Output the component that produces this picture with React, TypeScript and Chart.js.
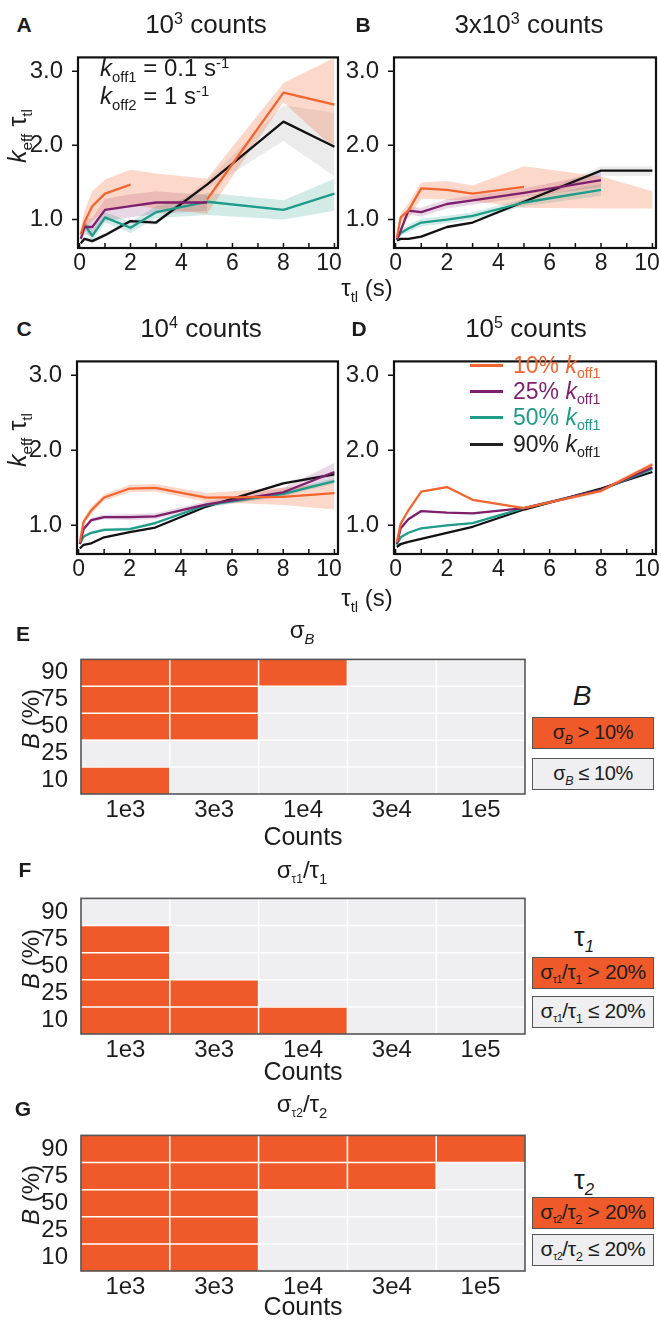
import React, { useEffect, useRef } from 'react';
import { Chart, registerables } from 'chart.js';

Chart.register(...registerables);

const FONT = '"Liberation Sans", Arial, Helvetica, sans-serif';
const INK = '#1c1c1c';

// ---------- shared axes ----------
const tauTL = [0.05, 0.2, 0.5, 1, 2, 3, 5, 8, 10];
const xTickValues = [0, 2, 4, 6, 8, 10];
const xTickMarks = [0, 1, 2, 3, 4, 5, 6, 7, 8, 9, 10];
const yTickValues = [1, 2, 3];

// ---------- colours ----------
const C_ORANGE = '#F2652F';
const C_PURPLE = '#7E1F6B';
const C_TEAL = '#1F9C89';
const C_BLACK = '#111111';
const B_ORANGE = 'rgba(242,101,47,0.25)';
const B_PURPLE = 'rgba(126,31,107,0.18)';
const B_TEAL = 'rgba(31,156,137,0.2)';
const B_BLACK = 'rgba(0,0,0,0.08)';
const HEAT_ON = '#F05A2A';
const HEAT_OFF = '#EFEFF1';

// ---------- Panel A : 10^3 counts ----------
const aOrange = [0.80, 0.97, 1.18, 1.35, 1.47, null, 1.27, 2.71, 2.55];
const aOrangeHi = [0.88, 1.12, 1.38, 1.54, 1.67, 1.62, 1.55, 2.84, 3.18];
const aOrangeLo = [0.72, 0.84, 0.98, 1.12, 1.20, 1.15, 1.08, 2.58, 1.95];
const aPurple = [0.74, 0.90, 0.90, 1.13, 1.18, 1.23, 1.23, null, null];
const aPurpleHi = [0.80, 1.00, 1.02, 1.28, 1.34, 1.38, 1.33, null, null];
const aPurpleLo = [0.68, 0.80, 0.78, 0.98, 1.03, 1.08, 1.12, null, null];
const aTeal = [0.80, 0.93, 0.78, 1.03, 0.89, 1.10, 1.24, 1.13, 1.35];
const aTealHi = [0.84, 0.99, 0.86, 1.10, 0.97, 1.18, 1.36, 1.26, 1.55];
const aTealLo = [0.76, 0.87, 0.70, 0.96, 0.82, 1.02, 1.06, 1.00, 1.12];
const aBlack = [0.68, 0.74, 0.71, 0.79, 0.98, 0.96, 1.47, 2.32, 1.98];
const aBlackHi = [0.70, 0.77, 0.74, 0.82, 1.01, 0.99, 1.53, 2.54, 2.44];
const aBlackLo = [0.66, 0.71, 0.68, 0.76, 0.95, 0.93, 1.41, 2.06, 1.58];

// ---------- Panel B : 3x10^3 counts ----------
const bOrange = [0.75, 1.03, 1.12, 1.42, 1.40, 1.35, 1.44, null, null];
const bOrangeHi = [0.80, 1.08, 1.22, 1.50, 1.52, 1.46, 1.72, 1.58, 1.38];
const bOrangeLo = [0.70, 0.97, 1.02, 1.28, 1.27, 1.25, 1.16, 1.15, 1.15];
const bPurple = [0.73, 0.85, 1.12, 1.10, 1.21, 1.26, 1.36, 1.53, null];
const bPurpleHi = [0.76, 0.90, 1.17, 1.16, 1.27, 1.32, 1.42, 1.63, null];
const bPurpleLo = [0.70, 0.80, 1.07, 1.04, 1.15, 1.20, 1.30, 1.44, null];
const bTeal = [0.73, 0.82, 0.88, 0.96, 1.00, 1.05, 1.23, 1.40, null];
const bTealHi = [0.76, 0.86, 0.93, 1.01, 1.05, 1.10, 1.28, 1.48, null];
const bTealLo = [0.70, 0.78, 0.83, 0.91, 0.95, 1.00, 1.18, 1.32, null];
const bBlack = [0.72, 0.74, 0.74, 0.77, 0.90, 0.96, 1.24, 1.66, 1.66];
const bBlackHi = [0.74, 0.76, 0.76, 0.79, 0.92, 0.98, 1.27, 1.72, 1.72];
const bBlackLo = [0.70, 0.72, 0.72, 0.75, 0.88, 0.94, 1.21, 1.59, 1.59];

// ---------- Panel C : 10^4 counts ----------
const cOrange = [0.77, 1.05, 1.20, 1.37, 1.49, 1.50, 1.37, 1.38, 1.43];
const cOrangeHi = [0.80, 1.09, 1.25, 1.41, 1.54, 1.55, 1.43, 1.50, 1.57];
const cOrangeLo = [0.74, 1.01, 1.15, 1.33, 1.44, 1.45, 1.31, 1.27, 1.21];
const cPurple = [0.75, 0.95, 1.07, 1.11, 1.11, 1.12, 1.28, 1.44, 1.71];
const cPurpleHi = [0.77, 0.98, 1.10, 1.14, 1.15, 1.16, 1.32, 1.50, 1.83];
const cPurpleLo = [0.73, 0.92, 1.04, 1.08, 1.07, 1.08, 1.24, 1.38, 1.61];
const cTeal = [0.75, 0.85, 0.90, 0.94, 0.95, 1.03, 1.27, 1.42, 1.59];
const cTealHi = [0.77, 0.87, 0.92, 0.96, 0.97, 1.05, 1.29, 1.45, 1.63];
const cTealLo = [0.73, 0.83, 0.88, 0.92, 0.93, 1.01, 1.25, 1.39, 1.55];
const cBlack = [0.69, 0.74, 0.76, 0.84, 0.91, 0.97, 1.25, 1.56, 1.68];
const cBlackHi = [0.70, 0.75, 0.77, 0.85, 0.92, 0.98, 1.26, 1.58, 1.71];
const cBlackLo = [0.68, 0.73, 0.75, 0.83, 0.90, 0.96, 1.24, 1.54, 1.65];

// ---------- Panel D : 10^5 counts ----------
const dOrange = [0.77, 1.02, 1.20, 1.45, 1.51, 1.34, 1.23, 1.46, 1.81];
const dOrangeHi = [0.78, 1.03, 1.21, 1.46, 1.52, 1.35, 1.24, 1.49, 1.84];
const dOrangeLo = [0.76, 1.01, 1.19, 1.44, 1.50, 1.33, 1.22, 1.43, 1.78];
const dPurple = [0.75, 0.96, 1.08, 1.19, 1.17, 1.16, 1.23, 1.47, 1.77];
const dPurpleHi = [0.76, 0.97, 1.09, 1.20, 1.18, 1.17, 1.24, 1.49, 1.80];
const dPurpleLo = [0.74, 0.95, 1.07, 1.18, 1.16, 1.15, 1.22, 1.45, 1.74];
const dTeal = [0.74, 0.84, 0.90, 0.96, 1.00, 1.03, 1.23, 1.47, 1.75];
const dTealHi = [0.75, 0.85, 0.91, 0.97, 1.01, 1.04, 1.24, 1.48, 1.77];
const dTealLo = [0.73, 0.83, 0.89, 0.95, 0.99, 1.02, 1.22, 1.46, 1.73];
const dBlack = [0.71, 0.75, 0.78, 0.82, 0.90, 0.98, 1.21, 1.49, 1.71];
const dBlackHi = [0.72, 0.76, 0.79, 0.83, 0.91, 0.99, 1.22, 1.50, 1.72];
const dBlackLo = [0.70, 0.74, 0.77, 0.81, 0.89, 0.97, 1.20, 1.48, 1.70];

// ---------- Heat maps ----------
const countLabels = ['1e3', '3e3', '1e4', '3e4', '1e5'];
const bLevels = ['10', '25', '50', '75', '90']; // bottom to top
// E: sigma_B > 10% (1 = yes)
const sigB_90 = [1, 1, 1, 0, 0];
const sigB_75 = [1, 1, 0, 0, 0];
const sigB_50 = [1, 1, 0, 0, 0];
const sigB_25 = [0, 0, 0, 0, 0];
const sigB_10 = [1, 0, 0, 0, 0];
// F: sigma_tau1/tau1 > 20%
const tau1_90 = [0, 0, 0, 0, 0];
const tau1_75 = [1, 0, 0, 0, 0];
const tau1_50 = [1, 0, 0, 0, 0];
const tau1_25 = [1, 1, 0, 0, 0];
const tau1_10 = [1, 1, 1, 0, 0];
// G: sigma_tau2/tau2 > 20%
const tau2_90 = [1, 1, 1, 1, 1];
const tau2_75 = [1, 1, 1, 1, 0];
const tau2_50 = [1, 1, 0, 0, 0];
const tau2_25 = [1, 1, 0, 0, 0];
const tau2_10 = [1, 1, 0, 0, 0];

type Arr = (number | null)[];
type Series = { color: string; band: string; mid: Arr; hi: Arr; lo: Arr };

const xy = (arr: Arr) => tauTL.map((x, i) => ({ x, y: arr[i] }));

function framePlugin() {
  return {
    id: 'frameTicks',
    afterDatasetsDraw(chart: any) {
      const { ctx, chartArea: a, scales } = chart;
      ctx.save();
      ctx.strokeStyle = '#111';
      ctx.lineWidth = 1.5;
      ctx.beginPath();
      for (const v of xTickMarks) {
        const px = scales.x.getPixelForValue(v);
        ctx.moveTo(px, a.bottom);
        ctx.lineTo(px, a.bottom - 5);
      }
      for (const v of yTickValues) {
        const py = scales.y.getPixelForValue(v);
        ctx.moveTo(a.left - 6, py);
        ctx.lineTo(a.left, py);
      }
      ctx.stroke();
      ctx.lineWidth = 2.2;
      ctx.strokeRect(a.left, a.top, a.right - a.left, a.bottom - a.top);
      // x tick labels (last label kept inside the frame, as in the figure)
      ctx.fillStyle = INK;
      ctx.font = `23px ${FONT}`;
      ctx.textAlign = 'center';
      ctx.textBaseline = 'middle';
      for (const v of xTickValues) {
        const px = Math.min(scales.x.getPixelForValue(v), a.right - 9);
        ctx.fillText(String(v), px, a.bottom + 16);
      }
      ctx.restore();
    },
  };
}

function LinePanel({ left, top, width, height, padRight, series }: { left: number; top: number; width: number; height: number; padRight: number; series: Series[] }) {
  const ref = useRef<HTMLCanvasElement>(null);
  useEffect(() => {
    const datasets: any[] = [];
    series.forEach((s, i) => {
      datasets.push({ data: xy(s.hi), borderWidth: 0, borderColor: 'rgba(0,0,0,0)', pointRadius: 0, fill: false, order: 10 + i });
      datasets.push({ data: xy(s.lo), borderWidth: 0, borderColor: 'rgba(0,0,0,0)', pointRadius: 0, fill: '-1', backgroundColor: s.band, order: 10 + i });
    });
    series.forEach((s, i) => {
      datasets.push({ data: xy(s.mid), borderColor: s.color, borderWidth: 2.3, pointRadius: 0, fill: false, order: i, borderJoinStyle: 'round' });
    });
    const chart = new Chart(ref.current as HTMLCanvasElement, {
      type: 'line',
      data: { datasets },
      options: {
        animation: false,
        responsive: false,
        events: [],
        layout: { padding: { top: 4, right: padRight, left: 0, bottom: 0 } },
        plugins: { legend: { display: false }, tooltip: { enabled: false } },
        scales: {
          x: {
            type: 'linear',
            min: -0.06,
            max: 10.14,
            afterBuildTicks: (s: any) => { s.ticks = xTickValues.map((value) => ({ value })); },
            afterFit: (s: any) => { s.height = 38; },
            grid: { display: false },
            border: { display: false },
            ticks: { display: false },
          },
          y: {
            type: 'linear',
            min: 0.617,
            max: 3.185,
            afterBuildTicks: (s: any) => { s.ticks = yTickValues.map((value) => ({ value })); },
            afterFit: (s: any) => { s.width = 58; },
            grid: { display: false },
            border: { display: false },
            ticks: { font: { family: FONT, size: 24 }, color: INK, padding: 7, callback: (v: any) => Number(v).toFixed(1) },
          },
        },
      } as any,
      plugins: [framePlugin() as any],
    });
    return () => chart.destroy();
  }, []);
  return <canvas ref={ref} width={width} height={height} style={{ position: 'absolute', left, top, width, height }} />;
}

function heatPlugin() {
  return {
    id: 'heatGrid',
    afterDatasetsDraw(chart: any) {
      const { ctx, chartArea: a, scales } = chart;
      ctx.save();
      ctx.strokeStyle = '#ffffff';
      ctx.lineWidth = 1.5;
      ctx.beginPath();
      for (let i = 1; i < countLabels.length; i++) {
        const px = (scales.x.getPixelForValue(i - 1) + scales.x.getPixelForValue(i)) / 2;
        ctx.moveTo(px, a.top);
        ctx.lineTo(px, a.bottom);
      }
      for (let k = 1; k < bLevels.length; k++) {
        const py = scales.y.getPixelForValue(k);
        ctx.moveTo(a.left, py);
        ctx.lineTo(a.right, py);
      }
      ctx.stroke();
      ctx.strokeStyle = '#555555';
      ctx.lineWidth = 1.6;
      ctx.strokeRect(a.left, a.top, a.right - a.left, a.bottom - a.top);
      ctx.restore();
    },
  };
}

function HeatPanel({ top, height, rows }: { top: number; height: number; rows: number[][] }) {
  const ref = useRef<HTMLCanvasElement>(null);
  useEffect(() => {
    const datasets = rows.map((flags) => ({
      data: flags.map(() => 1),
      backgroundColor: flags.map((f) => (f ? HEAT_ON : HEAT_OFF)),
      borderWidth: 0,
      categoryPercentage: 1,
      barPercentage: 1,
      stack: 'cells',
    }));
    const chart = new Chart(ref.current as HTMLCanvasElement, {
      type: 'bar',
      data: { labels: countLabels, datasets },
      options: {
        animation: false,
        responsive: false,
        events: [],
        layout: { padding: { top: 4, right: 5, left: 0, bottom: 0 } },
        plugins: { legend: { display: false }, tooltip: { enabled: false } },
        scales: {
          x: {
            stacked: true,
            afterFit: (s: any) => { s.height = 36; },
            grid: { display: false },
            border: { display: false },
            ticks: { font: { family: FONT, size: 24 }, color: INK, padding: -6, maxRotation: 0, autoSkip: false },
          },
          y: {
            stacked: true,
            type: 'linear',
            min: 0,
            max: 5,
            afterBuildTicks: (s: any) => { s.ticks = bLevels.map((_, i) => ({ value: i + 0.5 })); },
            afterFit: (s: any) => { s.width = 81; },
            grid: { display: false },
            border: { display: false },
            ticks: { font: { family: FONT, size: 24 }, color: INK, padding: 5, callback: (v: any) => bLevels[Math.floor(Number(v))] },
          },
        },
      } as any,
      plugins: [heatPlugin() as any],
    });
    return () => chart.destroy();
  }, []);
  return <canvas ref={ref} width={530} height={height} style={{ position: 'absolute', left: 0, top, width: 530, height }} />;
}

const Sub = ({ children, italic, scale = 0.62 }: { children: React.ReactNode; italic?: boolean; scale?: number }) => (
  <span style={{ fontSize: `${scale}em`, position: 'relative', top: '0.38em', fontStyle: italic ? 'italic' : 'normal' }}>{children}</span>
);
const Sup = ({ children }: { children: React.ReactNode }) => (
  <span style={{ fontSize: '0.62em', position: 'relative', top: '-0.55em' }}>{children}</span>
);

function Txt({ x, y, size = 22, anchor = 'center', rotate = 0, style, children }: { x: number; y: number; size?: number; anchor?: 'center' | 'left'; rotate?: number; style?: React.CSSProperties; children: React.ReactNode }) {
  const tx = anchor === 'center' ? '-50%' : '0';
  return (
    <div
      style={{
        position: 'absolute',
        left: x,
        top: y,
        transform: `translate(${tx}, -50%)${rotate ? ` rotate(${rotate}deg)` : ''}`,
        fontSize: size,
        lineHeight: 1,
        whiteSpace: 'nowrap',
        ...style,
      }}
    >
      {children}
    </div>
  );
}

const KeffLabel = () => (
  <span><i>k</i><Sub>eff</Sub>{' '}τ<Sub>tl</Sub></span>
);
const TauLabel = () => (
  <span>τ<Sub>tl</Sub> (s)</span>
);
const Koff = ({ n }: { n: string }) => (
  <span><i>k</i><Sub>off{n}</Sub></span>
);

function LegendBox({ top, fill, size = 20, children }: { top: number; fill: string; size?: number; children: React.ReactNode }) {
  return (
    <div
      style={{
        position: 'absolute', left: 532, top, width: 122, height: 32, boxSizing: 'border-box',
        border: '1.6px solid #555', background: fill, fontSize: size, lineHeight: '28px',
        textAlign: 'center', whiteSpace: 'nowrap', overflow: 'hidden', color: INK, letterSpacing: '-0.4px',
      }}
    >
      {children}
    </div>
  );
}

const legendRows = [
  { label: '10%', color: C_ORANGE, y: 365 },
  { label: '25%', color: C_PURPLE, y: 391 },
  { label: '50%', color: C_TEAL, y: 417 },
  { label: '90%', color: '#222222', y: 444 },
];

export default function App() {
  const seriesA: Series[] = [
    { color: C_ORANGE, band: B_ORANGE, mid: aOrange, hi: aOrangeHi, lo: aOrangeLo },
    { color: C_PURPLE, band: B_PURPLE, mid: aPurple, hi: aPurpleHi, lo: aPurpleLo },
    { color: C_TEAL, band: B_TEAL, mid: aTeal, hi: aTealHi, lo: aTealLo },
    { color: C_BLACK, band: B_BLACK, mid: aBlack, hi: aBlackHi, lo: aBlackLo },
  ];
  const seriesB: Series[] = [
    { color: C_ORANGE, band: B_ORANGE, mid: bOrange, hi: bOrangeHi, lo: bOrangeLo },
    { color: C_PURPLE, band: B_PURPLE, mid: bPurple, hi: bPurpleHi, lo: bPurpleLo },
    { color: C_TEAL, band: B_TEAL, mid: bTeal, hi: bTealHi, lo: bTealLo },
    { color: C_BLACK, band: B_BLACK, mid: bBlack, hi: bBlackHi, lo: bBlackLo },
  ];
  const seriesC: Series[] = [
    { color: C_ORANGE, band: B_ORANGE, mid: cOrange, hi: cOrangeHi, lo: cOrangeLo },
    { color: C_PURPLE, band: B_PURPLE, mid: cPurple, hi: cPurpleHi, lo: cPurpleLo },
    { color: C_TEAL, band: B_TEAL, mid: cTeal, hi: cTealHi, lo: cTealLo },
    { color: C_BLACK, band: B_BLACK, mid: cBlack, hi: cBlackHi, lo: cBlackLo },
  ];
  const seriesD: Series[] = [
    { color: C_ORANGE, band: B_ORANGE, mid: dOrange, hi: dOrangeHi, lo: dOrangeLo },
    { color: C_PURPLE, band: B_PURPLE, mid: dPurple, hi: dPurpleHi, lo: dPurpleLo },
    { color: C_TEAL, band: B_TEAL, mid: dTeal, hi: dTealHi, lo: dTealLo },
    { color: C_BLACK, band: B_BLACK, mid: dBlack, hi: dBlackHi, lo: dBlackLo },
  ];
  const bold = { fontWeight: 700 } as React.CSSProperties;

  return (
    <div style={{ position: 'absolute', left: 0, top: 0, width: 661, height: 1321, background: '#fff', fontFamily: FONT, color: INK, overflow: 'hidden' }}>
      {/* ---- line charts ---- */}
      <LinePanel left={20} top={36} width={334} height={250} padRight={16} series={seriesA} />
      <LinePanel left={336} top={36} width={334} height={250} padRight={14} series={seriesB} />
      <LinePanel left={19} top={340} width={335} height={252} padRight={16} series={seriesC} />
      <LinePanel left={336} top={340} width={334} height={252} padRight={14} series={seriesD} />

      <Txt x={24} y={24} size={21} style={bold}>A</Txt>
      <Txt x={206} y={24} size={26}>10<Sup>3</Sup> counts</Txt>
      <Txt x={363} y={24} size={21} style={bold}>B</Txt>
      <Txt x={529} y={24} size={26}>3x10<Sup>3</Sup> counts</Txt>
      <Txt x={24} y={328} size={21} style={bold}>C</Txt>
      <Txt x={201} y={328} size={26}>10<Sup>4</Sup> counts</Txt>
      <Txt x={359} y={328} size={21} style={bold}>D</Txt>
      <Txt x={526} y={328} size={26}>10<Sup>5</Sup> counts</Txt>

      <Txt x={100} y={68} size={24} anchor="left"><Koff n="1" /> = 0.1 s<Sup>-1</Sup></Txt>
      <Txt x={100} y={96} size={24} anchor="left"><Koff n="2" /> = 1 s<Sup>-1</Sup></Txt>

      <Txt x={17} y={136} size={25} rotate={-90}><KeffLabel /></Txt>
      <Txt x={17} y={440} size={25} rotate={-90}><KeffLabel /></Txt>
      <Txt x={367} y={288} size={24}><TauLabel /></Txt>
      <Txt x={367} y={598} size={24}><TauLabel /></Txt>

      {legendRows.map((r) => (
        <React.Fragment key={r.label}>
          <div style={{ position: 'absolute', left: 470, top: r.y - 1.5, width: 33, height: 3, background: r.color }} />
          <Txt x={513} y={r.y} size={23} anchor="left" style={{ color: r.color }}>{r.label} <Koff n="1" /></Txt>
        </React.Fragment>
      ))}

      {/* ---- heat maps ---- */}
      <HeatPanel top={640} height={190} rows={[sigB_10, sigB_25, sigB_50, sigB_75, sigB_90]} />
      <HeatPanel top={879} height={191} rows={[tau1_10, tau1_25, tau1_50, tau1_75, tau1_90]} />
      <HeatPanel top={1116} height={191} rows={[tau2_10, tau2_25, tau2_50, tau2_75, tau2_90]} />

      <Txt x={23} y={633} size={21} style={bold}>E</Txt>
      <Txt x={302} y={630} size={24}>σ<Sub italic>B</Sub></Txt>
      <Txt x={31} y={719} size={24} rotate={-90}><i>B</i> (%)</Txt>
      <Txt x={303} y={836} size={25}>Counts</Txt>
      <Txt x={582} y={696} size={28}><i>B</i></Txt>
      <LegendBox top={717} fill={HEAT_ON}>σ<Sub italic>B</Sub> &gt; 10%</LegendBox>
      <LegendBox top={758} fill={HEAT_OFF}>σ<Sub italic>B</Sub> ≤ 10%</LegendBox>

      <Txt x={25} y={869} size={21} style={bold}>F</Txt>
      <Txt x={302} y={870} size={24}>σ<Sub scale={0.5}>τ1</Sub>/τ<Sub>1</Sub></Txt>
      <Txt x={31} y={959} size={24} rotate={-90}><i>B</i> (%)</Txt>
      <Txt x={303} y={1071} size={25}>Counts</Txt>
      <Txt x={584} y={937} size={27}>τ<Sub italic>1</Sub></Txt>
      <LegendBox top={957} fill={HEAT_ON} size={21}>σ<Sub scale={0.5}>τ1</Sub>/τ<Sub>1</Sub> &gt; 20%</LegendBox>
      <LegendBox top={996} fill={HEAT_OFF} size={21}>σ<Sub scale={0.5}>τ1</Sub>/τ<Sub>1</Sub> ≤ 20%</LegendBox>

      <Txt x={23} y={1108} size={21} style={bold}>G</Txt>
      <Txt x={302} y={1104} size={24}>σ<Sub scale={0.5}>τ2</Sub>/τ<Sub>2</Sub></Txt>
      <Txt x={31} y={1195} size={24} rotate={-90}><i>B</i> (%)</Txt>
      <Txt x={303} y={1306} size={25}>Counts</Txt>
      <Txt x={584} y={1180} size={27}>τ<Sub italic>2</Sub></Txt>
      <LegendBox top={1197} fill={HEAT_ON} size={21}>σ<Sub scale={0.5}>τ2</Sub>/τ<Sub>2</Sub> &gt; 20%</LegendBox>
      <LegendBox top={1234} fill={HEAT_OFF} size={21}>σ<Sub scale={0.5}>τ2</Sub>/τ<Sub>2</Sub> ≤ 20%</LegendBox>
    </div>
  );
}
